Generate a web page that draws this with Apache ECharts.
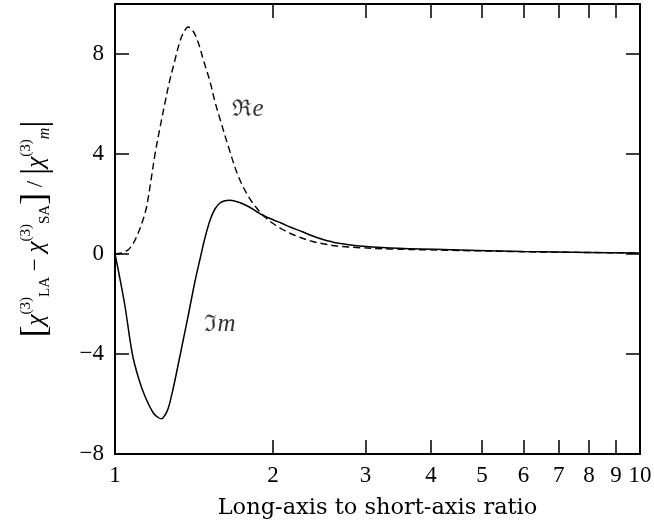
<!DOCTYPE html>
<html>
<head>
<meta charset="utf-8">
<script src="https://cdn.jsdelivr.net/npm/echarts@6/dist/echarts.min.js"></script>
<style>html,body{margin:0;padding:0;background:#fff}#c{width:654px;height:520px}</style>
</head>
<body>
<div id="c"></div>
<script>
// Real part (dashed): [ratio, value]
const reData = [
  [1.000, 0.00], [1.030, 0.04], [1.060, 0.17], [1.085, 0.45], [1.107, 0.84],
  [1.130, 1.35], [1.149, 1.90], [1.170, 2.90], [1.192, 4.00], [1.218, 5.05],
  [1.245, 6.04], [1.270, 6.90], [1.295, 7.60], [1.325, 8.40], [1.350, 8.85],
  [1.379, 9.08], [1.410, 8.90], [1.441, 8.45], [1.473, 7.77], [1.517, 6.90],
  [1.550, 6.10], [1.585, 5.40], [1.644, 4.30], [1.718, 3.10], [1.795, 2.30],
  [1.861, 1.84], [1.925, 1.50], [2.000, 1.22], [2.077, 1.00], [2.160, 0.82],
  [2.268, 0.64], [2.380, 0.50], [2.490, 0.41], [2.650, 0.32], [2.886, 0.26],
  [3.340, 0.20], [4.350, 0.15], [6.000, 0.09], [8.000, 0.06], [10.00, 0.04]
];
// Imaginary part (solid): [ratio, value]
const imData = [
  [1.000, 0.00], [1.020, -0.90], [1.045, -2.10], [1.079, -4.00], [1.110, -5.00],
  [1.141, -5.70], [1.183, -6.36], [1.210, -6.55], [1.227, -6.59], [1.245, -6.45],
  [1.264, -6.15], [1.290, -5.40], [1.320, -4.40], [1.350, -3.40], [1.379, -2.45],
  [1.420, -1.10], [1.452, -0.20], [1.484, 0.65], [1.517, 1.35], [1.550, 1.80],
  [1.585, 2.04], [1.620, 2.13], [1.655, 2.15], [1.722, 2.07], [1.795, 1.90],
  [1.860, 1.70], [1.925, 1.52], [2.000, 1.37], [2.077, 1.23], [2.160, 1.07],
  [2.268, 0.90], [2.380, 0.72], [2.490, 0.58], [2.650, 0.44], [2.886, 0.33],
  [3.340, 0.24], [4.350, 0.17], [6.000, 0.10], [8.000, 0.06], [10.00, 0.04]
];
// Curve annotations: [ratio, value, text]
const curveLabels = [
  [1.792, 5.77, '{f|ℜ}{i|e}'],
  [1.585, -2.83, '{f|ℑ}{i|m}']
];
const xTickValues = [2, 3, 4, 5, 6, 7, 8, 9];
const xLabelValues = [1, 2, 3, 4, 5, 6, 7, 8, 9, 10];
const yMin = -8, yMax = 10, yStep = 4;
const yLabelValues = [-8, -4, 0, 4, 8];
const xTitle = 'Long-axis to short-axis ratio';
const yTitle = '{b|[}{c|χ}{sup|(3)}{sub|LA}{t| − }{c|χ}{sup|(3)}{sub|SA}{b|]}{t| / }{b||}{c|χ}{sup|(3)}{subi|m}{b||}';

const serif = "'Liberation Serif', 'DejaVu Serif', serif";
const wide = "'DejaVu Serif', serif";
const black = '#000';

const chart = echarts.init(document.getElementById('c'), null, {renderer: 'canvas'});

const xBase = {
  type: 'log', logBase: 10, min: 1, max: 10,
  axisLine: {show: true, onZero: false, lineStyle: {color: black, width: 2}},
  splitLine: {show: false},
  minorTick: {show: false},
  axisTick: {show: true, inside: true, length: 14, lineStyle: {color: black, width: 1.5}, customValues: xTickValues}
};
const yBase = {
  type: 'value', min: yMin, max: yMax, interval: yStep,
  axisLine: {show: true, onZero: false, lineStyle: {color: black, width: 2}},
  splitLine: {show: false},
  axisTick: {show: true, inside: true, length: 14, lineStyle: {color: black, width: 1.5}, customValues: yLabelValues}
};

const lh = 34;
chart.setOption({
  animation: false,
  backgroundColor: '#fff',
  grid: {left: 115, right: 14, top: 4, bottom: 66, containLabel: false, outerBoundsMode: 'none'},
  xAxis: [
    Object.assign({}, xBase, {
      position: 'bottom',
      axisLabel: {show: true, customValues: xLabelValues, color: black, fontFamily: serif, fontSize: 23, margin: 10},
      name: xTitle, nameLocation: 'middle', nameGap: 43,
      nameTextStyle: {color: black, fontFamily: wide, fontSize: 22.5}
    }),
    Object.assign({}, xBase, {position: 'top', axisLabel: {show: false}})
  ],
  yAxis: [
    Object.assign({}, yBase, {
      position: 'left',
      axisLabel: {show: true, customValues: yLabelValues, color: black, fontFamily: serif, fontSize: 23, margin: 11,
        formatter: v => (v < 0 ? '\u2212' + Math.abs(v) : String(v))},
      name: yTitle, nameLocation: 'middle', nameGap: 62, nameRotate: 90,
      nameTextStyle: {
        color: black, fontFamily: serif, fontSize: 22,
        rich: {
          t: {fontFamily: serif, fontSize: 23, color: black, lineHeight: lh, verticalAlign: 'middle'},
          c: {fontFamily: serif, fontStyle: 'italic', fontSize: 25, color: black, lineHeight: lh, verticalAlign: 'middle'},
          b: {fontFamily: serif, fontSize: 36, color: black, lineHeight: lh, verticalAlign: 'middle'},
          sup: {fontFamily: serif, fontSize: 15, color: black, lineHeight: lh, verticalAlign: 'top'},
          sub: {fontFamily: serif, fontSize: 15, color: black, lineHeight: lh, verticalAlign: 'bottom'},
          subi: {fontFamily: serif, fontStyle: 'italic', fontSize: 16, color: black, lineHeight: lh, verticalAlign: 'bottom'}
        }
      }
    }),
    Object.assign({}, yBase, {position: 'right', axisLabel: {show: false}})
  ],
  series: [
    {
      name: 'Re', type: 'line', xAxisIndex: 0, yAxisIndex: 0, data: reData,
      showSymbol: false, symbol: 'none', smooth: 0.35,
      lineStyle: {color: black, width: 1.4, type: [7, 4]}
    },
    {
      name: 'Im', type: 'line', xAxisIndex: 0, yAxisIndex: 0, data: imData,
      showSymbol: false, symbol: 'none', smooth: 0.35,
      lineStyle: {color: black, width: 1.5}
    },
    {
      name: 'labels', type: 'scatter', xAxisIndex: 0, yAxisIndex: 0,
      data: curveLabels, symbolSize: 0, silent: true,
      label: {
        show: true, position: 'inside',
        formatter: p => p.data[2],
        rich: {
          f: {fontFamily: "'DejaVu Serif', serif", fontSize: 23, color: black},
          i: {fontFamily: serif, fontStyle: 'italic', fontSize: 25, color: black}
        }
      }
    }
  ]
});
</script>
</body>
</html>
